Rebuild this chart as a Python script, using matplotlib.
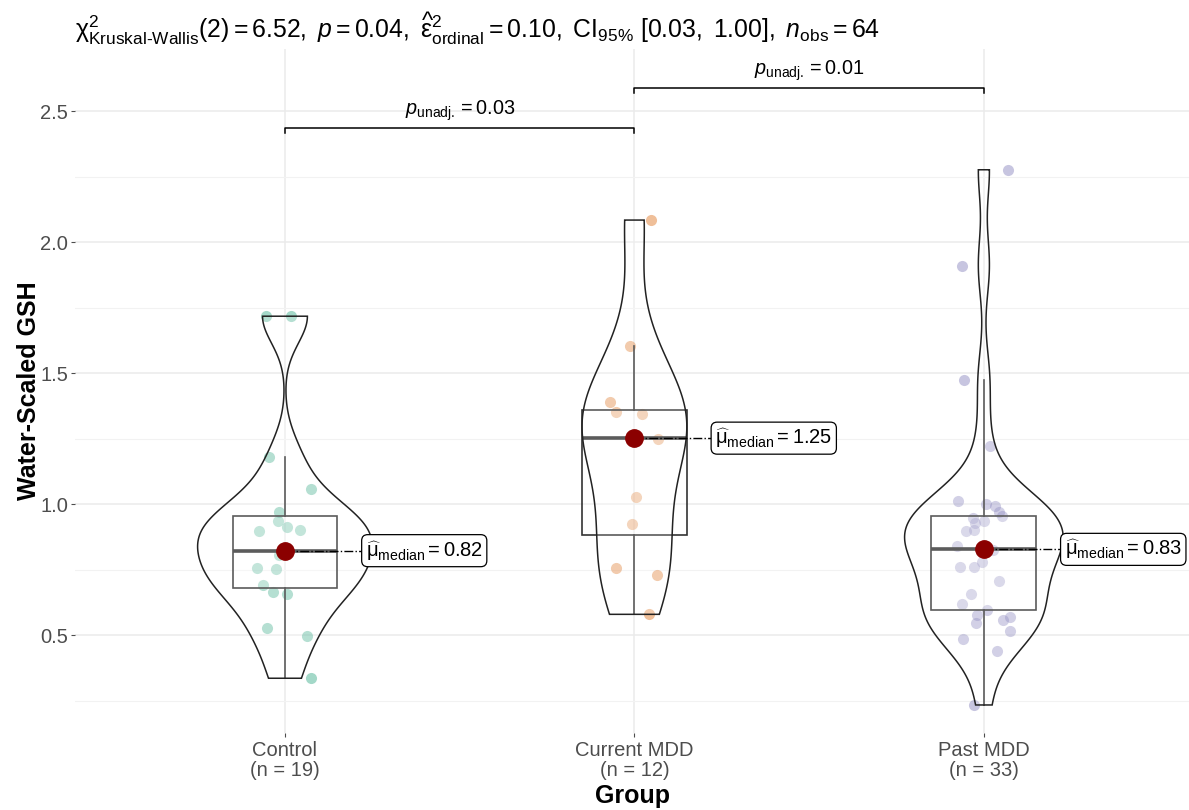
import numpy as np
import matplotlib
matplotlib.use('Agg')
import matplotlib.pyplot as plt
from matplotlib.patches import Polygon

plt.rcParams['font.family'] = ['Liberation Sans', 'DejaVu Sans']
plt.rcParams['mathtext.fontset'] = 'custom'
plt.rcParams['mathtext.rm'] = 'Liberation Sans'
plt.rcParams['mathtext.it'] = 'Liberation Sans:italic'
plt.rcParams['mathtext.bf'] = 'Liberation Sans:bold'
plt.rcParams['mathtext.sf'] = 'Liberation Sans'

# ---------------- data ----------------
groups = ['Control', 'Current MDD', 'Past MDD']
counts = [19, 12, 33]

control = [1.717, 1.717, 1.181, 1.056, 0.968, 0.937, 0.896, 0.914, 0.900, 0.822,
           0.805, 0.756, 0.752, 0.692, 0.666, 0.657, 0.525, 0.498, 0.335]
control_jitter = [-0.054, 0.016, -0.046, 0.075, -0.016, -0.021, -0.074, 0.007, 0.042, 0.0,
                  -0.017, -0.080, -0.027, -0.062, -0.035, 0.007, -0.051, 0.063, 0.075]

current = [2.084, 1.603, 1.391, 1.350, 1.344, 1.255, 1.248, 1.028, 0.925, 0.755, 0.731, 0.579]
current_jitter = [0.047, -0.012, -0.069, -0.054, 0.022, 0.0, 0.067, 0.005, -0.008, -0.054, 0.064, 0.043]

past = [2.276, 1.910, 1.475, 1.223, 1.013, 1.000, 0.992, 0.968, 0.955, 0.948, 0.936,
        0.926, 0.902, 0.897, 0.840, 0.838, 0.827, 0.824, 0.780, 0.760, 0.758, 0.705,
        0.655, 0.617, 0.595, 0.578, 0.568, 0.556, 0.547, 0.516, 0.486, 0.440, 0.233]
past_jitter = [0.069, -0.063, -0.056, 0.017, -0.075, 0.007, 0.032, 0.044, 0.052, -0.031, -0.001,
               -0.025, -0.028, -0.052, -0.078, 0.0, -0.006, 0.027, -0.006, -0.029, -0.068, 0.044,
               -0.037, -0.062, 0.008, -0.021, 0.074, 0.055, -0.022, 0.074, -0.061, 0.038, -0.028]

median_labels = ['0.82', '1.25', '0.83']
point_colors = ['#1B9E77', '#D95F02', '#7570B3']

pairs = [(1, 2), (2, 3)]
pair_y = [2.435, 2.588]
pair_p = ['0.03', '0.01']

title = (r'$\mathrm{\chi}^2_{\mathrm{Kruskal\text{-}Wallis}}(2) = 6.52,\ \mathit{p} = 0.04,\ '
         r'\widehat{\mathrm{\varepsilon}}^2_{\mathrm{ordinal}} = 0.10,\ \mathrm{CI}_{95\%}\ [0.03,\ 1.00],\ '
         r'\mathit{n}_{\mathrm{obs}} = 64$')

data = [control, current, past]
jitters = [control_jitter, current_jitter, past_jitter]
positions = [1, 2, 3]

# ---------------- figure ----------------
fig = plt.figure(figsize=(11.89, 8.10), dpi=100)
ax = fig.add_axes([75.3 / 1189, 77 / 810, (1189 - 75.3) / 1189, 684 / 810])
ax.set_xlim(0.4, 3.587)
ax.set_ylim(0.126, 2.737)

for s in ax.spines.values():
    s.set_visible(False)

# grid
ax.set_yticks([0.5, 1.0, 1.5, 2.0, 2.5])
ax.set_yticks([0.25, 0.75, 1.25, 1.75, 2.25], minor=True)
ax.grid(True, which='major', color='#EBEBEB', lw=1.1, zorder=0)
ax.grid(True, which='minor', axis='y', color='#F2F2F2', lw=0.8, zorder=0)
ax.set_axisbelow(True)
ax.set_xticks(positions)
ax.set_xticklabels([f'{g}\n(n = {n})' for g, n in zip(groups, counts)],
                   fontsize=14.5, color='#4D4D4D', linespacing=1.05)
ax.tick_params(axis='both', which='major', length=3, color='#4D4D4D', width=0.8)
ax.tick_params(axis='y', which='minor', length=0)
ax.tick_params(axis='y', labelsize=14.5, labelcolor='#4D4D4D', pad=2)
ax.tick_params(axis='x', pad=3)


def nrd0(x):
    x = np.asarray(x)
    hi = np.std(x, ddof=1)
    q75, q25 = np.percentile(x, [75, 25])
    lo = min(hi, (q75 - q25) / 1.34)
    if lo == 0:
        lo = hi or abs(x[0]) or 1
    return 0.9 * lo * len(x) ** (-0.2)


dens = []
for d in data:
    d = np.asarray(d)
    bw = nrd0(d)
    grid = np.linspace(d.min(), d.max(), 512)
    k = np.exp(-0.5 * ((grid[:, None] - d[None, :]) / bw) ** 2).sum(axis=1)
    k /= (len(d) * bw * np.sqrt(2 * np.pi))
    dens.append((grid, k))
maxd = max(k.max() for _, k in dens)

# jittered points
for pos, d, j, c in zip(positions, data, jitters, point_colors):
    ax.scatter(np.array(j) + pos, d, s=64, color=c, alpha=0.4, linewidths=0, zorder=2)

# boxplots
ax.boxplot(data, positions=positions, widths=0.3, whis=1.5, showfliers=False,
           showcaps=False, patch_artist=True, manage_ticks=False,
           boxprops=dict(facecolor=(1, 1, 1, 0.2), edgecolor='#333333', lw=1.2),
           whiskerprops=dict(color='#333333', lw=1.2),
           medianprops=dict(color='#333333', lw=2.6),
           zorder=3)

# violins
for pos, (grid, k) in zip(positions, dens):
    w = k / maxd * 0.25
    xs = np.concatenate([pos - w, (pos + w)[::-1]])
    ys = np.concatenate([grid, grid[::-1]])
    ax.add_patch(Polygon(np.column_stack([xs, ys]), closed=True,
                         facecolor=(1, 1, 1, 0.2), edgecolor='#222222', lw=1.1, zorder=4))

# medians + labels
for pos, d, lab in zip(positions, data, median_labels):
    m = float(np.median(d))
    ax.plot([pos, pos + 0.22], [m, m], color='black', lw=1.0, ls='-.', zorder=5)
    ax.plot(pos, m, 'o', color='#8B0000', ms=12.5, mec='#8B0000', zorder=6)
    ax.text(pos + 0.231, m, r'$\widehat{\mathrm{\mu}}_{\mathrm{median}} = ' + lab + '$',
            fontsize=14.5, va='center', ha='left', zorder=7,
            bbox=dict(boxstyle='round,pad=0.2,rounding_size=0.3', fc='white',
                      ec='black', lw=0.9))

# significance brackets
tip = 0.02
for (a, b), yb, p in zip(pairs, pair_y, pair_p):
    ax.plot([a, a, b, b], [yb - tip, yb, yb, yb - tip], color='black', lw=1.1,
            zorder=5, clip_on=False)
    ax.text((a + b) / 2, yb + 0.05, r'$\mathit{p}_{\mathrm{unadj.}} = ' + p + '$',
            fontsize=14.3, ha='center', va='baseline', zorder=7)

ax.set_xlabel('Group', fontsize=18, fontweight='bold')
ax.set_ylabel('Water-Scaled GSH', fontsize=18, fontweight='bold')
ax.xaxis.set_label_coords(0.5, (733 - 784) / 684)
ax.yaxis.set_label_coords((41 - 75.3) / 1113.7, 0.5)

fig.text(75 / 1189, 1 - 29 / 810, title, fontsize=17.8, ha='left', va='center')

fig.savefig('out.png', dpi=100)
